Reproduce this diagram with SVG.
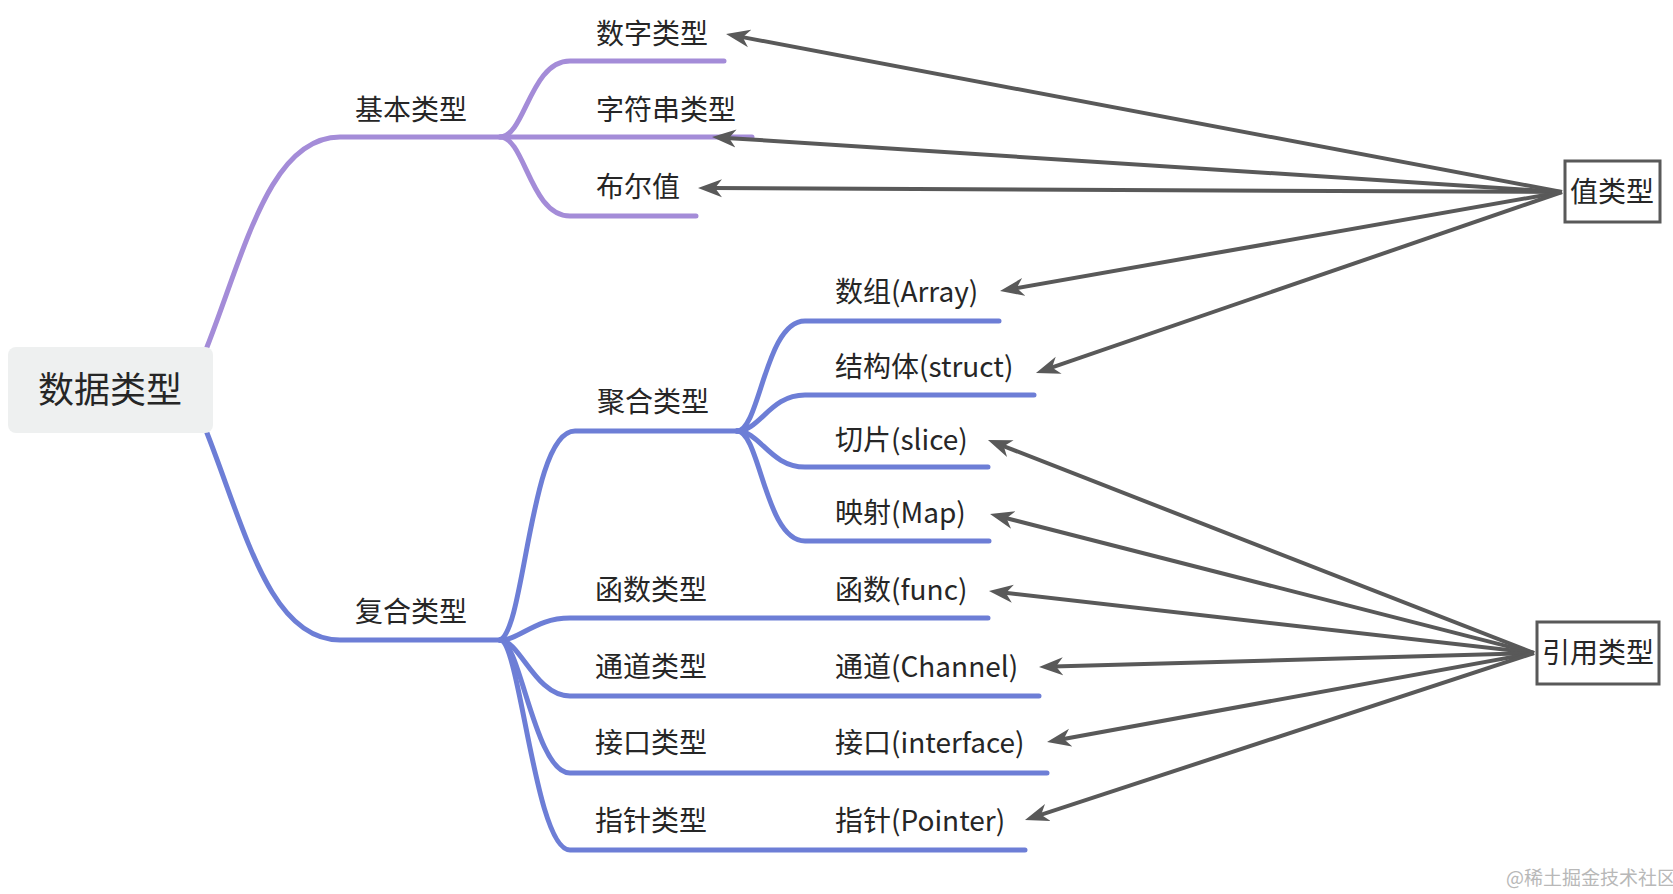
<svg xmlns="http://www.w3.org/2000/svg" width="1673" height="894" viewBox="0 0 1673 894">
<style>
  .t { font-family: "Noto Sans CJK SC", "Microsoft YaHei", sans-serif; font-size: 28px; fill: #262626; }
  .root { font-size: 36px; text-anchor: middle; }
  .mid { text-anchor: middle; }
  .pu { fill: none; stroke: #a48cd8; stroke-width: 5; stroke-linecap: round; }
  .bl { fill: none; stroke: #6d7ed6; stroke-width: 5; stroke-linecap: round; }
  .ar { fill: none; stroke: #595959; stroke-width: 4; marker-end: url(#arr); }
  .box { fill: #ffffff; stroke: #595959; stroke-width: 3; }
  .wm { font-family: "Noto Sans CJK SC", serif; font-size: 19px; fill: #b8b8b8; }
</style>
<defs>
  <marker id="arr" markerUnits="userSpaceOnUse" markerWidth="24" markerHeight="20" refX="10" refY="10" orient="auto">
    <path d="M0,1 L24,10 L0,19 L7,10 Z" fill="#595959"/>
  </marker>
</defs>
<rect width="1673" height="894" fill="#ffffff"/>

<g id="branches">
  <path class="pu" d="M207,347 C245,250 270,137 340,137 L752,137"/>
  <path class="pu" d="M500,137 C525,137 530,61 570,61 L724,61"/>
  <path class="pu" d="M500,137 C525,137 530,216 570,216 L696,216"/>
  <path class="bl" d="M207,433 C245,530 270,640 340,640 L500,640"/>
  <path class="bl" d="M500,640 C525,630 530,431 575,431 L737,431"/>
  <path class="bl" d="M500,640 C520,640 535,618 570,618 L988,618"/>
  <path class="bl" d="M500,640 C520,640 535,696 570,696 L1039,696"/>
  <path class="bl" d="M500,640 C520,640 535,773 570,773 L1047,773"/>
  <path class="bl" d="M500,640 C520,640 535,850 570,850 L1025,850"/>
  <path class="bl" d="M737,431 C760,431 765,321 805,321 L999,321"/>
  <path class="bl" d="M737,431 C760,431 770,395 805,395 L1034,395"/>
  <path class="bl" d="M737,431 C760,431 770,467 805,467 L988,467"/>
  <path class="bl" d="M737,431 C760,431 765,541 805,541 L989,541"/>
</g>

<g id="connectors">
  <line class="ar" x1="1562" y1="192" x2="739.8" y2="36.6"/>
  <line class="ar" x1="1562" y1="192" x2="726" y2="137.9"/>
  <line class="ar" x1="1562" y1="192" x2="712" y2="188.1"/>
  <line class="ar" x1="1562" y1="192" x2="1013.8" y2="288.6"/>
  <line class="ar" x1="1562" y1="192" x2="1049.2" y2="368.4"/>
  <line class="ar" x1="1534" y1="653" x2="1001" y2="445.1"/>
  <line class="ar" x1="1534" y1="653" x2="1003.6" y2="517.5"/>
  <line class="ar" x1="1534" y1="653" x2="1002.9" y2="592.6"/>
  <line class="ar" x1="1534" y1="653" x2="1053" y2="666.6"/>
  <line class="ar" x1="1534" y1="653" x2="1060.8" y2="739.5"/>
  <line class="ar" x1="1534" y1="653" x2="1038.3" y2="815.6"/>
</g>

<g id="root">
  <rect x="8" y="347" width="205" height="86" rx="8" fill="#eef0f0"/>
  <text class="t root" x="110" y="403">数据类型</text>
</g>
<g id="basic"><text class="t" x="355" y="120">基本类型</text></g>
<g id="number"><text class="t" x="596" y="44">数字类型</text></g>
<g id="string"><text class="t" x="596" y="120">字符串类型</text></g>
<g id="bool"><text class="t" x="596" y="197">布尔值</text></g>
<g id="composite"><text class="t" x="355" y="622">复合类型</text></g>
<g id="aggregate"><text class="t" x="597" y="412">聚合类型</text></g>
<g id="functype"><text class="t" x="595" y="600">函数类型</text></g>
<g id="chantype"><text class="t" x="595" y="677">通道类型</text></g>
<g id="ifacetype"><text class="t" x="595" y="753">接口类型</text></g>
<g id="ptrtype"><text class="t" x="595" y="831">指针类型</text></g>
<g id="array"><text class="t" x="835" y="302">数组(Array)</text></g>
<g id="struct"><text class="t" x="835" y="377">结构体(struct)</text></g>
<g id="slice"><text class="t" x="835" y="450">切片(slice)</text></g>
<g id="map"><text class="t" x="835" y="523">映射(Map)</text></g>
<g id="func"><text class="t" x="835" y="600">函数(func)</text></g>
<g id="channel"><text class="t" x="835" y="677">通道(Channel)</text></g>
<g id="interface"><text class="t" x="835" y="753">接口(interface)</text></g>
<g id="pointer"><text class="t" x="835" y="831">指针(Pointer)</text></g>
<g id="valuetype">
  <rect class="box" x="1565" y="161" width="95" height="61"/>
  <text class="t mid" x="1612" y="202">值类型</text>
</g>
<g id="reftype">
  <rect class="box" x="1537" y="622" width="122" height="62"/>
  <text class="t mid" x="1598" y="663">引用类型</text>
</g>
<text class="wm" x="1506" y="885">@稀土掘金技术社区</text>
</svg>
